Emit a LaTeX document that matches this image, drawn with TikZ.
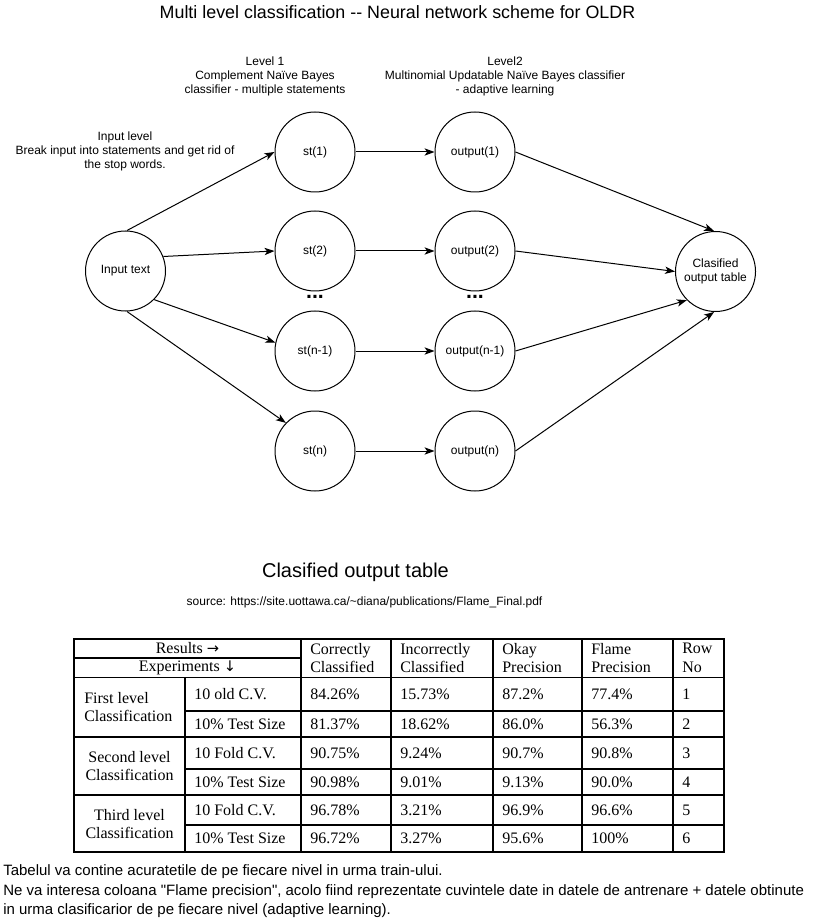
\documentclass[tikz,border=0pt]{standalone}
\usepackage{fontspec}
\setmainfont{Liberation Sans}
\newfontfamily\tabfont{Liberation Serif}
\newfontfamily\arrfont{DejaVu Sans}
\newfontfamily\notefont[Ligatures=ResetAll]{Liberation Sans}
\usetikzlibrary{arrows.meta}
\tikzset{
  circ/.style={draw, circle, line width=0.75pt, minimum size=60pt, inner sep=0pt, font=\fontsize{9}{10.5}\selectfont, align=center},
  conn/.style={line width=0.75pt, -{Stealth[length=7.5pt,width=5.5pt,inset=2pt]}},
  lbl/.style={font=\fontsize{9}{10.5}\selectfont, align=center},
  tline/.style={line width=0.9pt},
  cell/.style={anchor=west, inner sep=0pt, font=\tabfont\fontsize{12}{14}\selectfont, align=left},
  ccell/.style={inner sep=0pt, font=\tabfont\fontsize{12}{14}\selectfont, align=center},
  note/.style={anchor=west, inner sep=0pt, font=\notefont\fontsize{11.25}{14}\selectfont},
  dots/.style={font=\bfseries\fontsize{16}{16}\selectfont, inner sep=0pt}
}
\begin{document}
\begin{tikzpicture}[x=0.75pt,y=-0.75pt]
\useasboundingbox (0,0) rectangle (816,919);
% title
\node[font=\fontsize{13.4}{15}\selectfont] (title) at (397.5,12) {Multi level classification -{}- Neural network scheme for OLDR};
% level labels
\node[lbl] (lev1) at (265,76) {Level 1\\Complement Naïve Bayes\\classifier - multiple statements};
\node[lbl] (lev2) at (505,76) {Level2\\Multinomial Updatable Naïve Bayes classifier\\- adaptive learning};
\node[lbl] (inlev) at (125,151) {Input level\\Break input into statements and get rid of\\the stop words.};
% nodes
\node[circ] (in) at (125.5,271) {Input text};
\node[circ] (s1) at (315,152) {st(1)};
\node[circ] (s2) at (315,251) {st(2)};
\node[circ] (s3) at (315,351) {st(n-1)};
\node[circ] (s4) at (315,451) {st(n)};
\node[circ] (o1) at (475,152) {output(1)};
\node[circ] (o2) at (475,251) {output(2)};
\node[circ] (o3) at (475,351) {output(n-1)};
\node[circ] (o4) at (475,451) {output(n)};
\node[circ] (cl) at (715.5,271.5) {Clasified\\output table};
\node[dots] (d1) at (315,297) {...};
\node[dots] (d2) at (475,297) {...};
% connectors
\draw[conn] (in.88) -- (s1.180);
\draw[conn] (in.21) -- (s2.180);
\draw[conn] (in.-45) -- (s3.168);
\draw[conn] (in.-88) -- (s4.136);
\draw[conn] (s1) -- (o1);
\draw[conn] (s2) -- (o2);
\draw[conn] (s3) -- (o3);
\draw[conn] (s4) -- (o4);
\draw[conn] (o1.0) -- (cl.92);
\draw[conn] (o2.0) -- (cl.180);
\draw[conn] (o3.0) -- (cl.225);
\draw[conn] (o4.0) -- (cl.268);
% table title
\node[font=\fontsize{15}{17}\selectfont] (ttitle) at (355.5,572) {Clasified output table};
\node[font=\fontsize{9}{11}\selectfont] (src) at (364.5,602) {source: https://site.uottawa.ca/\textasciitilde diana/publications/Flame\_Final.pdf};
% table grid
\draw[tline] (74,639) rectangle (724,852);
\draw[tline] (74,658) -- (301,658);
\draw[tline] (74,677.5) -- (724,677.5);
\foreach \y in {711,769,825} \draw[tline] (185,\y) -- (724,\y);
\foreach \y in {737,795} \draw[tline] (74,\y) -- (724,\y);
\draw[tline] (185,677.5) -- (185,852);
\foreach \x in {301,391,493,582,673} \draw[tline] (\x,639) -- (\x,852);
% header
\node[ccell] (hres) at (187.5,648.5) {Results {\arrfont\fontsize{11}{12}\selectfont →}};
\node[ccell] (hexp) at (187.5,667.5) {Experiments {\arrfont\fontsize{11}{12}\selectfont ↓}};
\node[cell] (h1) at (310,658) {Correctly\\Classified};
\node[cell] (h2) at (400,658) {Incorrectly\\Classified};
\node[cell] (h3) at (502,658) {Okay\\Precision};
\node[cell] (h4) at (591,658) {Flame\\Precision};
\node[cell] (h5) at (682,658) {Row\\No};
% groups
\node[cell] (g1) at (84,707) {First level\\Classification};
\node[ccell] (g2) at (129.5,766) {Second level\\Classification};
\node[ccell] (g3) at (129.5,824) {Third level\\Classification};
% rows
\foreach \yy/\a/\b/\c/\d/\e/\f in {
  694/10 old C.V./84.26\%/15.73\%/87.2\%/77.4\%/1,
  724/10\% Test Size/81.37\%/18.62\%/86.0\%/56.3\%/2,
  753/10 Fold C.V./90.75\%/9.24\%/90.7\%/90.8\%/3,
  782/10\% Test Size/90.98\%/9.01\%/9.13\%/90.0\%/4,
  810/10 Fold C.V./96.78\%/3.21\%/96.9\%/96.6\%/5,
  838.5/10\% Test Size/96.72\%/3.27\%/95.6\%/100\%/6}{
  \node[cell] at (194,\yy) {\a};
  \node[cell] at (310,\yy) {\b};
  \node[cell] at (400,\yy) {\c};
  \node[cell] at (502,\yy) {\d};
  \node[cell] at (591,\yy) {\e};
  \node[cell] at (682,\yy) {\f};
}
% notes
\node[note] (n1) at (3,872) {Tabelul va contine acuratetile de pe fiecare nivel in urma train-ului.};
\node[note] (n2) at (3,892) {Ne va interesa coloana "Flame precision", acolo fiind reprezentate cuvintele date in datele de antrenare + datele obtinute};
\node[note] (n3) at (3,911) {in urma clasificarior de pe fiecare nivel (adaptive learning).};
\end{tikzpicture}
\end{document}
